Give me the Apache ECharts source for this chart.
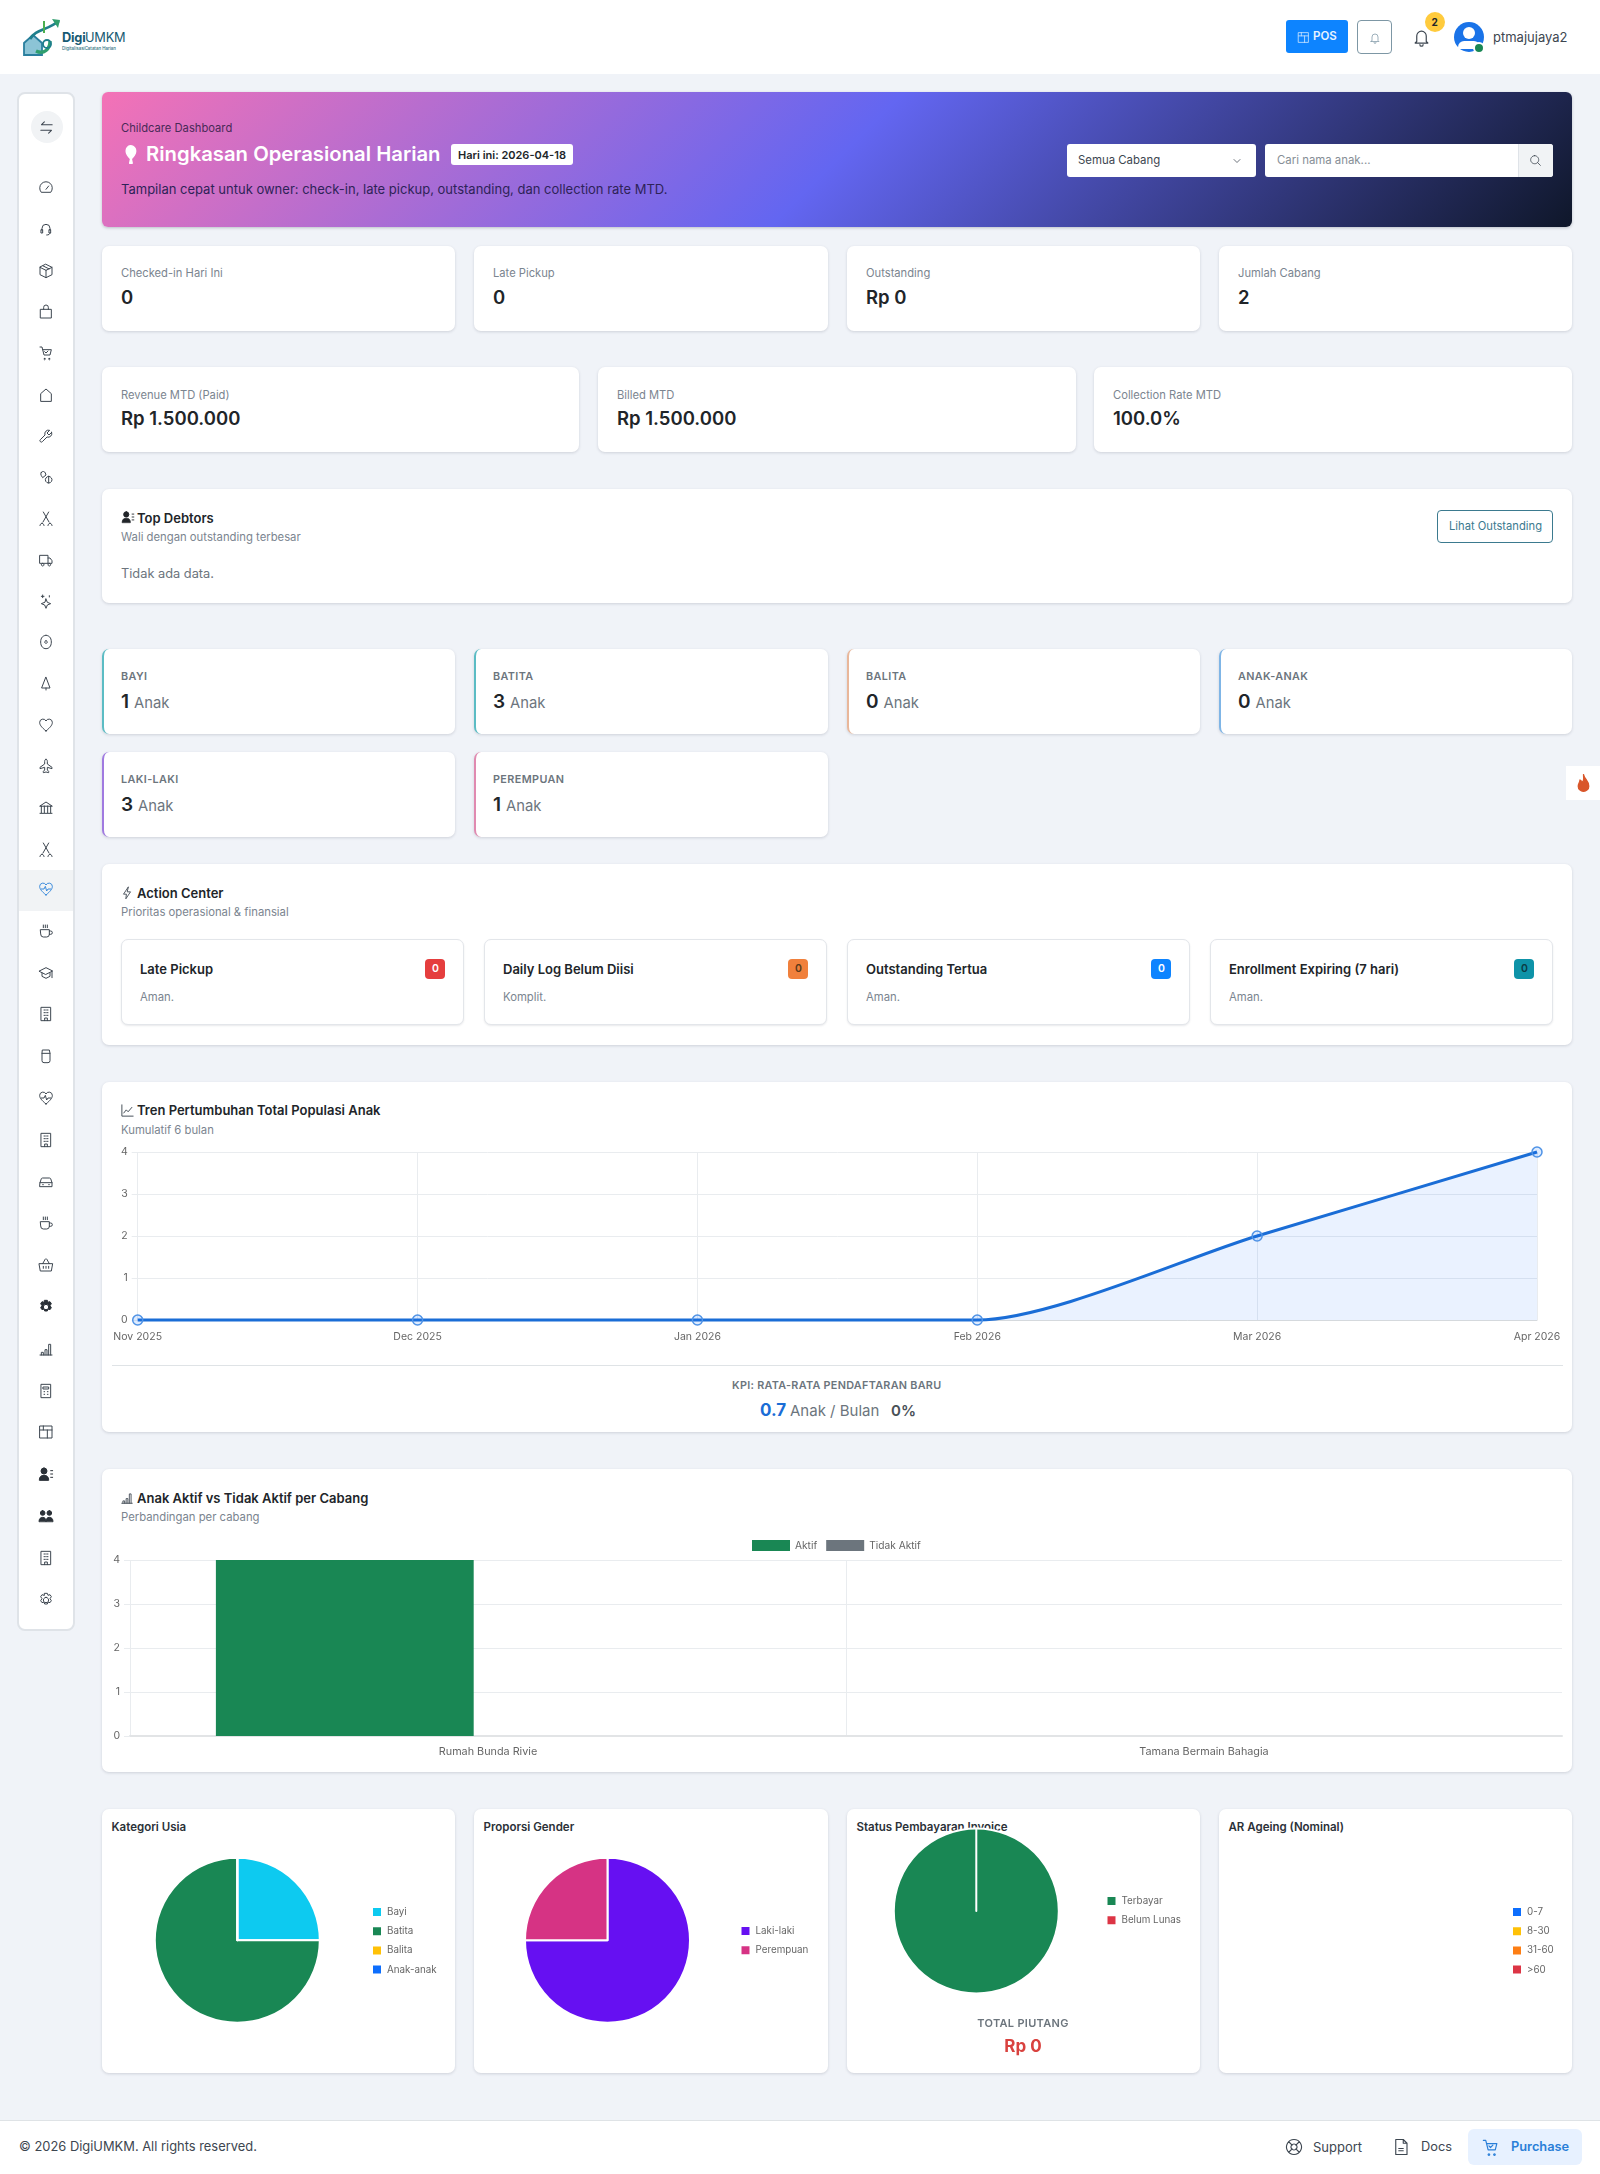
<!DOCTYPE html>
<html>
<head>
<meta charset="utf-8">
<title>Childcare Dashboard</title>
<script src="https://cdn.jsdelivr.net/npm/echarts@6/dist/echarts.min.js"></script>
<style>
  html, body { margin: 0; padding: 0; width: 1600px; height: 2174px; overflow: hidden; background: #f0f3f8; font-family: Inter, "Noto Sans", sans-serif; color: #212529; }
  #page { position: relative; width: 1600px; height: 2174px; }
  .box { position: absolute; box-sizing: border-box; }
  .card { background: #fff; border-radius: 7px; box-shadow: 0 1px 3px rgba(30, 40, 60, .16); }
  .t { position: absolute; white-space: nowrap; transform: translateY(-50%); line-height: 1; }
  .chart { position: absolute; z-index: 2; }
  svg.ic { position: absolute; fill: none; stroke: #3d4650; stroke-width: 1.5; stroke-linecap: round; stroke-linejoin: round; }
</style>
</head>
<body>
<div id="page"></div>
<script>
// data
const months = ['Nov 2025', 'Dec 2025', 'Jan 2026', 'Feb 2026', 'Mar 2026', 'Apr 2026']
const growthValues = [0, 0, 0, 0, 2, 4]
const branches = ['Rumah Bunda Rivie', 'Tamana Bermain Bahagia']
const activeCounts = [4, 0]
const inactiveCounts = [0, 0]
const ageLabels = ['Bayi', 'Batita', 'Balita', 'Anak-anak']
const ageValues = [1, 3, 0, 0]
const genderLabels = ['Laki-laki', 'Perempuan']
const genderValues = [3, 1]
const invoiceLabels = ['Terbayar', 'Belum Lunas']
const invoiceValues = [1500000, 0]
const ageingLabels = ['0-7', '8-30', '31-60', '>60']
const ageingValues = [0, 0, 0, 0]

const page = document.getElementById('page')

function box(x, y, w, h, css, cls) {
  const d = document.createElement('div')
  d.className = 'box ' + (cls || '')
  d.style.cssText = `left:${x}px;top:${y}px;width:${w}px;height:${h}px;${css || ''}`
  page.appendChild(d)
  return d
}
function card(x, y, w, h, css) { return box(x, y, w, h, css, 'card') }
// y is the vertical middle of the text
function txt(x, y, s, size, weight, color, css) {
  const d = document.createElement('div')
  d.className = 't'
  d.textContent = s
  d.style.cssText = `left:${x}px;top:${y}px;font-size:${size}px;font-weight:${weight || 400};color:${color || '#212529'};${css || ''}`
  page.appendChild(d)
  return d
}
function icon(cx, cy, size, d, css) {
  const ns = 'http://www.w3.org/2000/svg'
  const s = document.createElementNS(ns, 'svg')
  s.setAttribute('class', 'ic')
  s.setAttribute('viewBox', '0 0 24 24')
  s.setAttribute('width', size)
  s.setAttribute('height', size)
  s.style.cssText = `left:${cx - size / 2}px;top:${cy - size / 2}px;${css || ''}`
  const p = document.createElementNS(ns, 'path')
  p.setAttribute('d', d)
  s.appendChild(p)
  page.appendChild(s)
  return s
}

const ICONS = {
  swap: 'M20 8H5l4-4 M4 16h15l-4 4',
  gauge: 'M4.5 18a9.5 9.5 0 1 1 15 0z M12 14l4-5',
  headset: 'M6 14v-3a6 6 0 0 1 12 0v3 M5 13h2v5H5z M17 13h2v5h-2z M18 18c0 2-2 3-5 3',
  box: 'M12 2l9 4.5v11L12 22l-9-4.5v-11z M3 6.5l9 4.5 9-4.5 M12 11v11 M7.5 4.3l9 4.5',
  bag: 'M4 8h16v13H4z M8.5 8V5a3.5 3.5 0 0 1 7 0v3',
  cart: 'M3 3h3l3 12h9l2-8H7 M10 20a1 1 0 1 0 .01 0 M17 20a1 1 0 1 0 .01 0 M10 10l2 2 3-3',
  house: 'M4 21V10l8-7 8 7v11z',
  wrench: 'M20.5 6.5l-4 4-3-3 4-4a5.5 5.5 0 0 0-7 7l-7 7a2.1 2.1 0 0 0 3 3l7-7a5.5 5.5 0 0 0 7-7z',
  pills: 'M5 5a3.5 3.5 0 0 1 6 1l1 3-5 4-2-3a4 4 0 0 1 0-5z M16 11a5 5 0 1 0 .01 0z M16 11v10',
  scissors: 'M6 20a3 3 0 1 0 .01 0z M18 20a3 3 0 1 0 .01 0z M7.5 18L16 3 M16.5 18L8 3',
  truck: 'M3 5h12v12H3z M15 9h3l3 4v4h-6 M7 17a2 2 0 1 0 .01 0 M17 17a2 2 0 1 0 .01 0',
  sparkle: 'M12 9l2 5 5 2-5 2-2 5-2-5-5-2 5-2z M7 3v4 M5 5h4 M17 4v2',
  egg: 'M12 2c4 0 8 3 8 10s-4 10-8 10-8-3-8-10 4-10 8-10z M12 10a2 2 0 1 0 .01 0',
  tree: 'M12 2l6 16H6z M12 18v3',
  heart: 'M12 21C5 15 2.5 12 2.5 8a5 5 0 0 1 9.5-2 5 5 0 0 1 9.5 2c0 4-2.5 7-9.5 13z',
  plane: 'M12 2c1 0 2 1 2 3v4l7 5v2l-7-2v4l2 2v2l-4-1-4 1v-2l2-2v-4l-7 2v-2l7-5V5c0-2 1-3 2-3z',
  bank: 'M3 9l9-6 9 6z M5 9v10 M9.5 9v10 M14.5 9v10 M19 9v10 M3 20h18',
  pulse: 'M12 21C5 15 2.5 12 2.5 8a5 5 0 0 1 9.5-2 5 5 0 0 1 9.5 2c0 4-2.5 7-9.5 13z M5 12h4l2-4 2 7 2-3h4',
  cup: 'M4 10h13v7a4 4 0 0 1-4 4H8a4 4 0 0 1-4-4z M17 12h2a2 2 0 0 1 0 5h-2 M8 3v4 M11 3v4 M14 3v4',
  grad: 'M2 9l10-5 10 5-10 5z M6 12v5l6 3 6-3v-5 M21 10v9',
  building: 'M5 2h14v20H5z M9 6h2 M13 6h2 M9 10h2 M13 10h2 M9 14h2 M13 14h2 M10 22v-4h4v4',
  jar: 'M7 3h10l1 5v11a3 3 0 0 1-3 3H9a3 3 0 0 1-3-3V8z M6 8h12',
  car: 'M3 13l2-6a2 2 0 0 1 2-1h10a2 2 0 0 1 2 1l2 6v6H3z M3 13h18 M7 16h1 M16 16h1',
  basket: 'M2 10h20l-2 11H4z M7 10l4-7 M17 10l-4-7 M8 14v3 M12 14v3 M16 14v3',
  gear: 'M12 8a4 4 0 1 0 .01 0z M10 2h4l1 3 3-1 2 3-2 3 2 3-2 3-3-1-1 3h-4l-1-3-3 1-2-3 2-3-2-3 2-3 3 1z',
  chart: 'M3 21h18 M5 21v-4h3v4 M10.5 21v-8h3v8 M16 21V5h3v16',
  calc: 'M5 2h14v20H5z M8 6h8v3H8z M9 13h1 M14 13h1 M9 17h1 M14 17h1',
  shop: 'M3 3h18v18H3z M3 9h18 M8 3v6 M14 9v12',
  person: 'M9 3a4.5 4.5 0 1 1 0 9a4.5 4.5 0 1 1 0-9z M2 21c0-5 3-7 7-7s7 2 7 7z M19 7h3 M19 12h3 M19 17h3',
  people: 'M7 4a3.5 3.5 0 1 1 0 7a3.5 3.5 0 1 1 0-7z M17 4a3.5 3.5 0 1 1 0 7a3.5 3.5 0 1 1 0-7z M1.5 20c0-4 2.5-6 5.5-6s5 2 5 6z M12 20c0-4 2-6 5-6s5.5 2 5.5 6z',
  bell: 'M6 17V10a6 6 0 0 1 12 0v7l2 2H4z M10 21a2 2 0 0 0 4 0',
  search: 'M10.5 3a7.5 7.5 0 1 0 .01 0z M16 16l5 5',
  chevron: 'M6 9l6 6 6-6',
  bolt: 'M14 2L6 14h5l-1 8 8-12h-5z',
  line: 'M3 3v18h18 M6 16l4-5 3 3 6-7',
  balloon: 'M12 2c4 0 6 3 6 6 0 4-3 7-5 9l1 5h-3l1-5c-2-2-5-5-5-9 0-3 2-6 5-6z',
  lifebuoy: 'M12 2a10 10 0 1 0 .01 0z M12 8a4 4 0 1 0 .01 0z M5 5l4.5 4.5 M19 5l-4.5 4.5 M5 19l4.5-4.5 M19 19l-4.5-4.5',
  doc: 'M5 2h10l5 5v15H5z M15 2v5h5 M9 14h6 M9 17h6'
}
const SIDE_ICONS = ['gauge', 'headset', 'box', 'bag', 'cart', 'house', 'wrench', 'pills', 'scissors', 'truck', 'sparkle', 'egg', 'tree', 'heart', 'plane', 'bank', 'scissors', 'pulse', 'cup', 'grad', 'building', 'jar', 'pulse', 'building', 'car', 'cup', 'basket', 'gear', 'chart', 'calc', 'shop', 'person', 'people', 'building', 'gear']
const FILLED_ROWS = [27, 31, 32]

// header
box(0, 0, 1600, 74, 'background:#fff')
{
  const s = document.createElementNS('http://www.w3.org/2000/svg', 'svg')
  s.setAttribute('viewBox', '0 0 40 40')
  s.setAttribute('width', '40')
  s.setAttribute('height', '40')
  s.style.cssText = 'position:absolute;left:22px;top:17px'
  s.innerHTML = '<path d="M2 26l9-8 9 8v12H2z" fill="#8cc4d6" stroke="#2a7f9e" stroke-width="1.8"/>' +
    '<path d="M14 34c8 4 14-2 14-10" fill="none" stroke="#2f9e6e" stroke-width="3.4"/>' +
    '<path d="M8 22C14 12 24 14 37 4" fill="none" stroke="#1f7f8c" stroke-width="2.8"/>' +
    '<path d="M30 2l8 1-2 8z" fill="#2f9e6e"/><path d="M22 4v12" stroke="#4caf50" stroke-width="2"/>' +
    '<circle cx="25" cy="27" r="4" fill="none" stroke="#1f7f8c" stroke-width="1.8"/>'
  page.appendChild(s)
}
txt(62, 38, 'Digi', 12.8, 700, '#175a72', 'letter-spacing:-.2px')
txt(85, 38, 'UMKM', 12.8, 400, '#175a72', 'letter-spacing:-.2px')
txt(62, 48.5, 'DigitalisasiCatatan Harian', 4.4, 500, '#2a6f80')
box(1286, 20, 62, 33, 'background:#0d84ff;border-radius:3px')
icon(1303, 37, 13, ICONS.shop, 'stroke:#cfe6ff')
txt(1313, 37, 'POS', 11.5, 600, '#e8f3ff')
box(1357, 20, 35, 34, 'border:1px solid #7d97a5;border-radius:4px;background:#fff')
icon(1374.5, 37.5, 12, ICONS.bell, 'stroke:#7d97a5')
icon(1421, 37, 19, ICONS.bell)
box(1425, 12, 20, 20, 'background:#ffcb3d;border-radius:50%')
txt(1431.5, 22, '2', 10, 700, '#212529')
box(1454, 22, 30, 30, 'background:#1a73e8;border-radius:50%')
box(1463, 27, 12, 12, 'background:#fff;border-radius:50%')
box(1458, 41, 22, 8, 'background:#fff;border-radius:10px 10px 3px 3px')
box(1473, 42, 12, 12, 'background:#198754;border-radius:50%;border:2px solid #fff')
txt(1493, 37, 'ptmajujaya2', 13, 400, '#3d4650')

// sidebar
box(17, 92, 58, 1539, 'background:#fff;border:2px solid #dfe3e8;border-radius:8px')
box(31, 111, 32, 32, 'background:#f1f3f5;border-radius:50%')
box(19, 870, 54, 41, 'background:#f1f3f5')
icon(46, 127, 17, ICONS.swap)
SIDE_ICONS.forEach((name, i) => {
  const y = i <= 16 ? 188 + i * 41.3 : 889 + (i - 17) * 41.8
  let css = i === 17 ? 'stroke:#3b8bdc' : ''
  if (FILLED_ROWS.includes(i)) css = 'fill:#2b3138;stroke:#2b3138'
  icon(46, y, 16, ICONS[name], css)
})

// banner
box(102, 92, 1470, 135, 'border-radius:6px;background:linear-gradient(135deg,#f472b6 0%,#6366f1 50%,#0f172a 100%);box-shadow:0 1px 3px rgba(30,40,60,.25)')
txt(121, 129, 'Childcare Dashboard', 11.2, 400, '#4a2a58')
icon(130, 154, 21, ICONS.balloon, 'fill:#fff;stroke:#fff')
txt(146, 154, 'Ringkasan Operasional Harian', 20.3, 600, '#fff')
box(451, 144, 122, 21, 'background:#fff;border-radius:3px')
txt(458, 154.5, 'Hari ini: 2026-04-18', 11, 600, '#212529')
txt(121, 189, 'Tampilan cepat untuk owner: check-in, late pickup, outstanding, dan collection rate MTD.', 13, 400, '#2e2358')
box(1067, 144, 189, 33, 'background:#fff;border-radius:3px')
txt(1078, 160.5, 'Semua Cabang', 11.4, 400, '#3d4650')
icon(1237, 160.5, 12, ICONS.chevron)
box(1265, 144, 288, 33, 'background:#fff;border-radius:3px')
box(1518, 144, 35, 33, 'background:#f1f3f5;border-radius:0 3px 3px 0;border-left:1px solid #dfe3e8')
txt(1277, 160.5, 'Cari nama anak...', 11.4, 400, '#868e96')
icon(1535.5, 160.5, 13, ICONS.search)

// stat cards row 1
const STAT_X = [102, 474, 847, 1219]
const STAT_W = [353, 354, 353, 353]
const statsA = [['Checked-in Hari Ini', '0'], ['Late Pickup', '0'], ['Outstanding', 'Rp 0'], ['Jumlah Cabang', '2']]
statsA.forEach((s, i) => {
  card(STAT_X[i], 246, STAT_W[i], 85)
  txt(STAT_X[i] + 19, 274, s[0], 11.2, 400, '#7b8590')
  txt(STAT_X[i] + 19, 297, s[1], 18.5, 600, '#212529')
})

// stat cards row 2
const statsB = [[102, 477, 'Revenue MTD (Paid)', 'Rp 1.500.000'], [598, 478, 'Billed MTD', 'Rp 1.500.000'], [1094, 478, 'Collection Rate MTD', '100.0%']]
statsB.forEach(s => {
  card(s[0], 367, s[1], 85)
  txt(s[0] + 19, 395.5, s[2], 11.2, 400, '#7b8590')
  txt(s[0] + 19, 418, s[3], 18.5, 600, '#212529')
})

// top debtors
card(102, 489, 1470, 114)
icon(128, 517, 14, ICONS.person, 'fill:#212529;stroke:#212529')
txt(137, 517.5, 'Top Debtors', 13, 600, '#212529')
txt(121, 538, 'Wali dengan outstanding terbesar', 11.3, 400, '#7b8590')
txt(121, 574, 'Tidak ada data.', 12.8, 400, '#6c757d')
box(1437, 510, 116, 33, 'border:1px solid #3b7a8f;border-radius:4px;background:#fff')
txt(1449, 526.5, 'Lihat Outstanding', 11.2, 400, '#3b7a8f')

// age and gender cards
const demo = [
  [102, 649, 'BAYI', '1', '#5bbcc4'], [474, 649, 'BATITA', '3', '#5bbcc4'],
  [847, 649, 'BALITA', '0', '#e9b79a'], [1219, 649, 'ANAK-ANAK', '0', '#7fb5e6'],
  [102, 752, 'LAKI-LAKI', '3', '#a07ae0'], [474, 752, 'PEREMPUAN', '1', '#e08ab0']
]
demo.forEach(d => {
  card(d[0], d[1], d[0] === 474 ? 354 : 353, 85, `border-left:2px solid ${d[4]}`)
  txt(d[0] + 19, d[1] + 28, d[2], 10.8, 600, '#6c757d', 'letter-spacing:.4px')
  const count = txt(d[0] + 19, d[1] + 52, d[3], 19, 600, '#212529')
  const unit = document.createElement('span')
  unit.textContent = 'Anak'
  unit.style.cssText = 'font-size:14.8px;font-weight:400;color:#6c757d;margin-left:5px'
  count.appendChild(unit)
})

// action center
card(102, 864, 1470, 181)
icon(127, 893, 14, ICONS.bolt)
txt(137, 893, 'Action Center', 13, 600, '#212529')
txt(121, 913, 'Prioritas operasional & finansial', 11.3, 400, '#7b8590')
const actions = [
  [121, 'Late Pickup', 'Aman.', '#e53e3e', '#fff'],
  [484, 'Daily Log Belum Diisi', 'Komplit.', '#f0803c', '#5a3a1a'],
  [847, 'Outstanding Tertua', 'Aman.', '#0d84ff', '#fff'],
  [1210, 'Enrollment Expiring (7 hari)', 'Aman.', '#0e93a8', '#0b3c46']
]
actions.forEach(a => {
  box(a[0], 939, 343, 86, 'background:#fff;border:1px solid #e3e6ea;border-radius:7px;box-shadow:0 1px 2px rgba(30,40,60,.1)')
  txt(a[0] + 19, 969, a[1], 13, 600, '#212529')
  txt(a[0] + 19, 998, a[2], 11.3, 400, '#7b8590')
  box(a[0] + 304, 959, 20, 20, `background:${a[3]};border-radius:4px`)
  txt(a[0] + 311, 969, '0', 10.5, 600, a[4])
})

// trend card
card(102, 1082, 1470, 350)
icon(127, 1110, 15, ICONS.line)
txt(137, 1110, 'Tren Pertumbuhan Total Populasi Anak', 13, 600, '#212529')
txt(121, 1130.5, 'Kumulatif 6 bulan', 11.3, 400, '#7b8590')
box(112, 1365, 1451, 1, 'background:#dfe3e6')
txt(732, 1386, 'KPI: RATA-RATA PENDAFTARAN BARU', 10.8, 600, '#6c757d', 'letter-spacing:.3px')
txt(760, 1410, '0.7', 17, 700, '#1a6dd6')
txt(790, 1410, 'Anak / Bulan', 15, 400, '#6c757d')
txt(891, 1410, '0%', 15, 600, '#495057')
const lineBox = box(102, 1140, 1470, 220, '', 'chart')

// branch card
card(102, 1469, 1470, 303)
icon(127, 1498, 14, ICONS.chart)
txt(137, 1498, 'Anak Aktif vs Tidak Aktif per Cabang', 13, 600, '#212529')
txt(121, 1517.5, 'Perbandingan per cabang', 11.3, 400, '#7b8590')
const barBox = box(102, 1530, 1470, 235, '', 'chart')

// pie cards
const PIE_TITLES = ['Kategori Usia', 'Proporsi Gender', 'Status Pembayaran Invoice', 'AR Ageing (Nominal)']
const pieBoxes = STAT_X.map((x, i) => {
  card(x, 1809, STAT_W[i], 264)
  txt(x + 9.5, 1828, PIE_TITLES[i], 11.5, 600, '#2b3138')
  return box(x, 1809, 353, 264, '', 'chart')
})
txt(1023, 2023, 'TOTAL PIUTANG', 11, 600, '#6c757d', 'transform:translate(-50%,-50%);letter-spacing:.3px;z-index:3')
txt(1023, 2046, 'Rp 0', 17, 700, '#d9423f', 'transform:translate(-50%,-50%);z-index:3')

// footer
box(0, 2120, 1600, 54, 'background:#fff;border-top:1px solid #dfe3e6')
txt(19, 2147, '© 2026 DigiUMKM. All rights reserved.', 12.9, 400, '#3d4650')
icon(1294, 2147, 18, ICONS.lifebuoy)
txt(1313, 2147, 'Support', 13, 400, '#3d4650')
icon(1401, 2147, 18, ICONS.doc)
txt(1421, 2147, 'Docs', 12.8, 400, '#3d4650')
box(1468, 2129, 114, 36, 'background:#e7f1ff;border-radius:6px')
icon(1490, 2147, 19, ICONS.cart, 'stroke:#2a7fd8')
txt(1511, 2147, 'Purchase', 12.8, 600, '#2a7fd8')

// side tab
box(1566, 766, 34, 34, 'background:#fff')
icon(1583, 783, 21, 'M12 2c1 5 6 7 6 13a6 6 0 0 1-12 0c0-3 2-4 2-7 2 1 3 3 3 4 1-3 2-6 1-10z', 'fill:#d9562a;stroke:#d9562a')

// charts
const GRID = '#e9ecef'
const LABEL = '#666'

const lineChart = echarts.init(lineBox)
lineChart.setOption({
  animation: false,
  grid: { left: 35.7, right: 35, top: 12, height: 168 },
  xAxis: {
    type: 'category',
    data: months,
    boundaryGap: false,
    axisLine: { lineStyle: { color: '#d5d9dd' } },
    axisTick: { show: false },
    axisLabel: { color: LABEL, fontSize: 10.5, fontFamily: 'Inter', margin: 11 },
    splitLine: { show: true, lineStyle: { color: GRID } }
  },
  yAxis: {
    type: 'value',
    min: 0,
    max: 4,
    interval: 1,
    axisLine: { show: false },
    axisTick: { show: true, length: 6, lineStyle: { color: GRID } },
    axisLabel: { color: LABEL, fontSize: 10.5, fontFamily: 'Inter', margin: 10 },
    splitLine: { lineStyle: { color: GRID } }
  },
  series: [{
    type: 'line',
    data: growthValues,
    smooth: 0.25,
    symbol: 'circle',
    symbolSize: 10,
    clip: false,
    lineStyle: { color: '#1a6dd6', width: 3 },
    itemStyle: { color: 'rgba(13,110,253,.14)', borderColor: '#4f93e6', borderWidth: 1.5 },
    areaStyle: { color: 'rgba(13,110,253,.12)' }
  }]
})

const barChart = echarts.init(barBox)
barChart.setOption({
  animation: false,
  legend: {
    data: ['Aktif', 'Tidak Aktif'],
    icon: 'rect',
    padding: 0,
    left: 650,
    top: 10,
    itemWidth: 38,
    itemHeight: 11,
    itemGap: 9,
    textStyle: { color: LABEL, fontSize: 10.2, fontFamily: 'Inter' }
  },
  grid: { left: 28, right: 10, top: 30, height: 176 },
  xAxis: {
    type: 'category',
    data: branches,
    axisLine: { lineStyle: { color: '#e2e4e6', width: 2 } },
    axisTick: { length: 7, lineStyle: { color: GRID } },
    axisLabel: { color: LABEL, fontSize: 10.8, fontFamily: 'Inter', margin: 10 },
    splitLine: { show: true, showMaxLine: false, lineStyle: { color: GRID } }
  },
  yAxis: {
    type: 'value',
    min: 0,
    max: 4,
    interval: 1,
    axisLine: { show: false },
    axisTick: { show: true, length: 6, lineStyle: { color: GRID } },
    axisLabel: { color: LABEL, fontSize: 10.5, fontFamily: 'Inter', margin: 10 },
    splitLine: { lineStyle: { color: GRID } }
  },
  series: [
    { name: 'Aktif', type: 'bar', data: activeCounts, barWidth: 257.8, barGap: '11.1%', itemStyle: { color: '#198754' } },
    { name: 'Tidak Aktif', type: 'bar', data: inactiveCounts, barWidth: 257.8, barGap: '11.1%', itemStyle: { color: '#6c757d' } }
  ]
})

function pieOption(labels, values, colors, center, legendLeft, legendTop) {
  return {
    animation: false,
    color: colors,
    legend: {
      orient: 'vertical',
      padding: 0,
      left: legendLeft,
      top: legendTop,
      icon: 'rect',
      itemWidth: 10,
      itemHeight: 10,
      itemGap: 7.2,
      textStyle: { color: LABEL, fontSize: 9.8, fontFamily: 'Inter' }
    },
    series: [{
      type: 'pie',
      center: center,
      radius: 82.5,
      startAngle: 90,
      stillShowZeroSum: false,
      label: { show: false },
      labelLine: { show: false },
      itemStyle: { borderColor: '#fff', borderWidth: 2 },
      data: labels.map((name, i) => ({ name: name, value: values[i] }))
    }]
  }
}
echarts.init(pieBoxes[0]).setOption(pieOption(ageLabels, ageValues, ['#0dcaf0', '#198754', '#ffc107', '#0d6efd'], [135.3, 131.3], 269, 97))
echarts.init(pieBoxes[1]).setOption(pieOption(genderLabels, genderValues, ['#6610f2', '#d63384'], [133.5, 131.3], 265.5, 116))
echarts.init(pieBoxes[2]).setOption(pieOption(invoiceLabels, invoiceValues, ['#198754', '#dc3545'], [129.3, 102], 258.5, 86))
echarts.init(pieBoxes[3]).setOption(pieOption(ageingLabels, ageingValues, ['#0d6efd', '#ffc107', '#fd7e14', '#dc3545'], [129.5, 131], 292, 97))
</script>
</body>
</html>
